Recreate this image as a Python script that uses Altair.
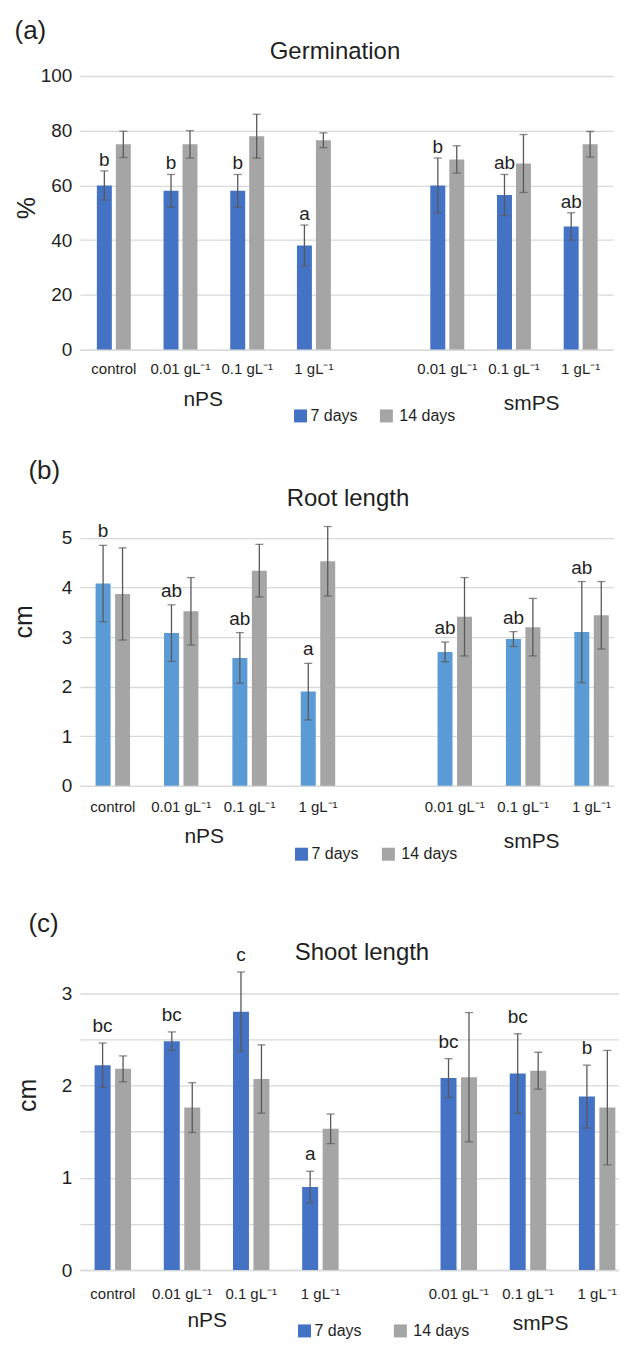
import altair as alt
import pandas as pd

FONT = "Liberation Sans"
INK = "#1f1f1f"

# ---------------- data ----------------
keys = ["n_control", "n_0.01", "n_0.1", "n_1", "gap", "s_0.01", "s_0.1", "s_1"]
tick_labels = ["control", "0.01 gL⁻¹", "0.1 gL⁻¹", "1 gL⁻¹", "", "0.01 gL⁻¹", "0.1 gL⁻¹", "1 gL⁻¹"]
treatments = ["n_control", "n_0.01", "n_0.1", "n_1", "s_0.01", "s_0.1", "s_1"]
series = ["7 days", "14 days"]
groups = ["nPS", "smPS"]
panel_tags = ["(a)", "(b)", "(c)"]
panel_titles = ["Germination", "Root length", "Shoot length"]
y_titles = ["%", "cm", "cm"]

germ_7 = [60, 58, 58, 38, 60, 56.5, 45]
germ_7_err = [5.3, 6, 6, 7.5, 10, 7.5, 5]
germ_14 = [75, 75, 78, 76.5, 69.5, 68, 75]
germ_14_err = [4.8, 5, 8, 2.7, 5, 10.6, 4.7]
germ_letters = ["b", "b", "b", "a", "b", "ab", "ab"]

root_7 = [4.08, 3.08, 2.58, 1.90, 2.70, 2.96, 3.10]
root_7_err = [0.77, 0.57, 0.51, 0.57, 0.20, 0.15, 1.02]
root_14 = [3.87, 3.52, 4.34, 4.53, 3.41, 3.20, 3.44]
root_14_err = [0.93, 0.68, 0.53, 0.70, 0.79, 0.58, 0.68]
root_letters = ["b", "ab", "ab", "a", "ab", "ab", "ab"]

shoot_7 = [2.22, 2.48, 2.80, 0.90, 2.08, 2.13, 1.88]
shoot_7_err = [0.24, 0.10, 0.43, 0.17, 0.21, 0.43, 0.34]
shoot_14 = [2.18, 1.76, 2.07, 1.53, 2.09, 2.16, 1.76]
shoot_14_err = [0.14, 0.27, 0.37, 0.16, 0.70, 0.20, 0.62]
shoot_letters = ["bc", "bc", "c", "a", "bc", "bc", "b"]

BLUE = "#4472C4"
LIGHT_BLUE = "#5B9BD5"
GRAY = "#A5A5A5"
ERR = "#595959"
GRID = "#D9D9D9"
LEGEND_COLORS = [BLUE, GRAY]

label_expr = "{" + ",".join(f"'{k}':'{t}'" for k, t in zip(keys, tick_labels)) + "}[datum.value]"


def build_df(m7, e7, m14, e14, letters):
    rows = []
    for i, k in enumerate(treatments):
        rows.append(dict(key=k, series=series[0], mean=m7[i], lo=m7[i] - e7[i],
                         hi=m7[i] + e7[i], letter=letters[i]))
        rows.append(dict(key=k, series=series[1], mean=m14[i], lo=m14[i] - e14[i],
                         hi=m14[i] + e14[i], letter=""))
    return pd.DataFrame(rows)


def band_params(W, step, first_center, band, n=8):
    p_in = 1 - band / step
    p_out = (W / step - n + p_in) / 2
    start = first_center - band / 2
    extra = W - step * (n - p_in)
    return p_in, p_out, start / extra


def note(text, x, y, size, **kw):
    return alt.Chart(pd.DataFrame({"t": [text]})).mark_text(
        fontSize=size, font=FONT, color=INK, **kw
    ).encode(text="t:N", x=alt.value(x), y=alt.value(y))


def legend_item(name, color, sx, sy, tx, ty):
    sq = alt.Chart(pd.DataFrame({"s": [name]})).mark_square(
        size=169, color=color, opacity=1, strokeWidth=0
    ).encode(x=alt.value(sx), y=alt.value(sy))
    return [sq, note(name, tx, ty, 16, align="left", baseline="alphabetic")]


def panel(i, df, *, width, height, ymax, grid_vals, int_only, bar_colors,
          step, first_center, band, bar, label_pad, letter_dy, tag_xy, title_xy,
          ytitle_xy, grp_xy, leg):
    p_in, p_out, align = band_params(width, step, first_center, band)
    sub = band / 2
    off_in = (sub - bar) / sub
    off_out = (band / sub - 2 + off_in) / 2
    x = alt.X("key:N", scale=alt.Scale(domain=keys, paddingInner=p_in,
                                       paddingOuter=p_out, align=align),
              axis=alt.Axis(title=None, labelExpr=label_expr, labelAngle=0,
                            labelFontSize=15, labelFont=FONT, labelColor=INK,
                            labelBaseline="alphabetic", labelPadding=label_pad,
                            labelOverlap=False, ticks=False, domainColor=GRID,
                            domainWidth=1.3, grid=False))
    xo = alt.XOffset("series:N", scale=alt.Scale(domain=series, paddingInner=off_in,
                                                 paddingOuter=off_out))
    yaxis = alt.Axis(title=None, values=grid_vals, ticks=False, domain=False,
                     gridColor=GRID, gridWidth=1.3, labelFontSize=19, labelFont=FONT,
                     labelColor=INK, labelPadding=8,
                     labelExpr=("datum.value % 1 === 0 ? format(datum.value, 'd') : ''"
                                if int_only else "datum.label"))
    y = alt.Y("mean:Q", scale=alt.Scale(domain=[0, ymax], nice=False), axis=yaxis)
    base = alt.Chart(df)
    bars = base.mark_bar().encode(
        x=x, xOffset=xo, y=y,
        color=alt.Color("series:N", scale=alt.Scale(domain=series, range=bar_colors),
                        legend=None),
    )
    stems = base.mark_rule(color=ERR, strokeWidth=1.3).encode(
        x="key:N", xOffset="series:N", y="lo:Q", y2="hi:Q")
    cap_hi = base.mark_tick(color=ERR, thickness=1.3, size=8).encode(
        x="key:N", xOffset="series:N", y="hi:Q")
    cap_lo = base.mark_tick(color=ERR, thickness=1.3, size=8).encode(
        x="key:N", xOffset="series:N", y="lo:Q")
    letters = base.transform_filter(alt.datum.series == series[0]).mark_text(
        fontSize=19, font=FONT, color=INK, baseline="alphabetic", dy=-letter_dy
    ).encode(x="key:N", xOffset="series:N", y="hi:Q", text="letter:N")
    notes = [
        note(panel_tags[i], tag_xy[0], tag_xy[1], 26, align="left", baseline="alphabetic"),
        note(panel_titles[i], title_xy[0], title_xy[1], 24, align="center",
             baseline="alphabetic"),
        note(y_titles[i], ytitle_xy[0], ytitle_xy[1], 25, align="center",
             baseline="middle", angle=270),
        note(groups[0], grp_xy[0][0], grp_xy[0][1], 21, align="center",
             baseline="alphabetic"),
        note(groups[1], grp_xy[1][0], grp_xy[1][1], 21, align="center",
             baseline="alphabetic"),
    ]
    legend = []
    for name, color, (sx, sy, tx, ty) in zip(series, LEGEND_COLORS, leg):
        legend += legend_item(name, color, sx, sy, tx, ty)
    return alt.layer(bars, stems, cap_hi, cap_lo, letters, *notes, *legend).properties(
        width=width, height=height)


pa = panel(0, build_df(germ_7, germ_7_err, germ_14, germ_14_err, germ_letters),
           width=534, height=274, ymax=100, grid_vals=[0, 20, 40, 60, 80, 100],
           int_only=False, bar_colors=[BLUE, GRAY], step=66.8, first_center=34,
           band=38, bar=15, label_pad=24, letter_dy=5, tag_xy=(-65.5, -37),
           title_xy=(255.5, -17.3), ytitle_xy=(-52.5, 132.5),
           grp_xy=((123.5, 331), (452.5, 335)),
           leg=[(221, 340.5, 231, 345.5), (307, 340.5, 320, 345.5)])

pb = panel(1, build_df(root_7, root_7_err, root_14, root_14_err, root_letters),
           width=534.5, height=277, ymax=5.578, grid_vals=[0, 1, 2, 3, 4, 5],
           int_only=False, bar_colors=[LIGHT_BLUE, GRAY], step=68.5, first_center=33,
           band=39, bar=15, label_pad=26, letter_dy=8, tag_xy=(-51.5, -30.7),
           title_xy=(268.5, -3), ytitle_xy=(-55.5, 112.7),
           grp_xy=((124.5, 334), (452.5, 339)),
           leg=[(222, 345.5, 232, 350), (309, 345.5, 322, 350)])

pc = panel(2, build_df(shoot_7, shoot_7_err, shoot_14, shoot_14_err, shoot_letters),
           width=539.5, height=325, ymax=3.516,
           grid_vals=[0, 0.5, 1, 1.5, 2, 2.5, 3], int_only=True,
           bar_colors=[BLUE, GRAY], step=69.3, first_center=33, band=41, bar=16,
           label_pad=29, letter_dy=11, tag_xy=(-51.5, -13.3), title_xy=(282.5, 14),
           ytitle_xy=(-51.5, 150), grp_xy=((127.5, 382), (461.5, 385)),
           leg=[(225, 386, 235, 391), (321, 386, 334, 391)])

chart = alt.vconcat(pa, pb, pc, spacing=160, bounds="flush").resolve_scale(
    x="independent", y="independent", color="independent", xOffset="independent"
).properties(
    padding={"left": 4, "top": 9, "right": 0, "bottom": 0}
).configure(font=FONT).configure_view(stroke="transparent", strokeWidth=0)

chart.save("out.html", embed_options={"renderer": "svg", "actions": False})
